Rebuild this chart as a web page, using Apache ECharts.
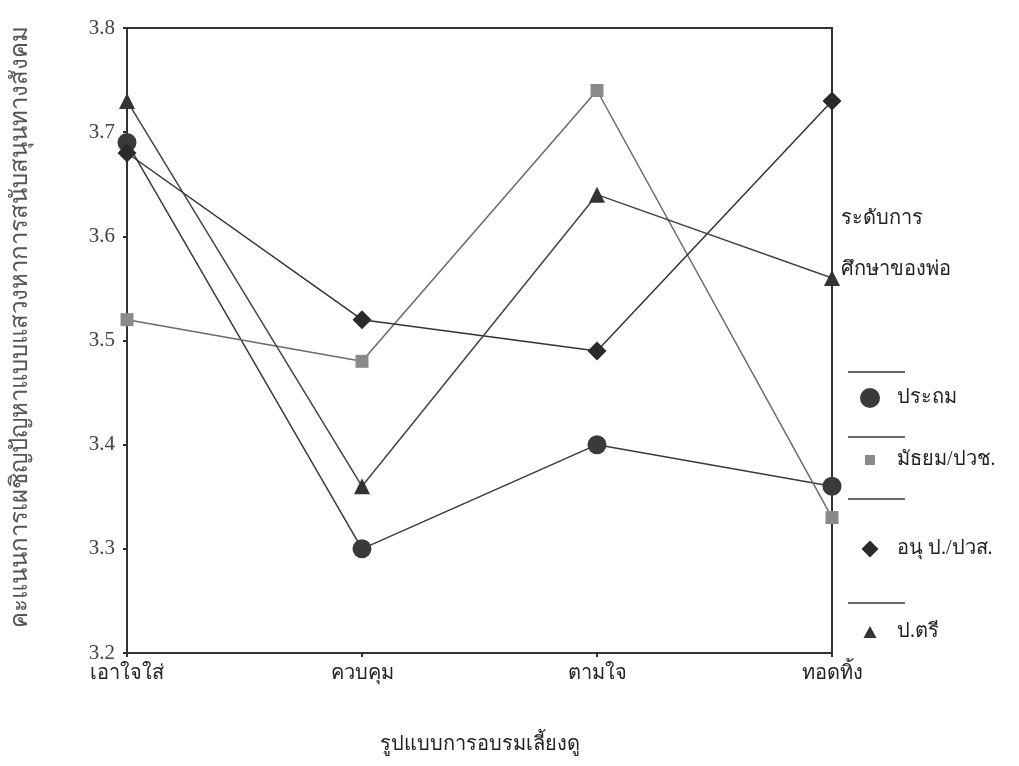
<!DOCTYPE html>
<html>
<head>
    <meta charset="utf-8"/>
    <title>ECharts</title>
    <script src="https://cdn.jsdelivr.net/npm/echarts@6/dist/echarts.min.js"></script>
    <style type="text/css">
        body { margin: 0; background: #fff; }
        #main { width: 1019px; height: 766px; }
    </style>
</head>
<body>
<div id="main"></div>
<script type="text/javascript">
    // categories (parenting style)
    var styles = ['เอาใจใส่', 'ควบคุม', 'ตามใจ', 'ทอดทิ้ง'];
    // father's education level
    var levels = ['ประถม', 'มัธยม/ปวช.', 'อนุ ป./ปวส.', 'ป.ตรี'];
    var prathom = [3.69, 3.30, 3.40, 3.36];
    var mathayom = [3.52, 3.48, 3.74, 3.33];
    var anu = [3.68, 3.52, 3.49, 3.73];
    var bachelor = [3.73, 3.36, 3.64, 3.56];
    var yTicks = [3.2, 3.3, 3.4, 3.5, 3.6, 3.7, 3.8];

    var font = "'Liberation Serif', 'DejaVu Serif', serif";
    var ink = '#333';

    var myChart = echarts.init(document.getElementById('main'));

    function line(name, data, symbol, size, color, lineColor) {
        return {
            name: name,
            type: 'line',
            data: data,
            symbol: symbol,
            symbolSize: size,
            showAllSymbol: true,
            itemStyle: { color: color },
            lineStyle: { color: lineColor, width: 1.5 },
            z: 3
        };
    }

    // one legend per item so the uneven spacing of the original can be kept
    function legendAt(name, icon, w, h, top) {
        return {
            data: [{ name: name, icon: icon }],
            left: 865 - w / 2,
            top: top,
            itemWidth: w,
            itemHeight: h,
            selectedMode: false,
            textStyle: { fontFamily: font, fontSize: 20, color: '#222', padding: [0, 0, 0, 27 - w / 2 - 5] }
        };
    }

    var option = {
        backgroundColor: '#fff',
        animation: false,
        title: {
            text: 'ระดับการ\nศึกษาของพ่อ',
            left: 836,
            top: 188,
            textStyle: { fontFamily: font, fontSize: 20, fontWeight: 'normal', color: '#222', lineHeight: 51 }
        },
        grid: {
            left: 127, right: 187, top: 28, bottom: 113,
            show: true, borderColor: ink, borderWidth: 2, backgroundColor: 'transparent'
        },
        legend: [
            legendAt(levels[0], 'circle', 20, 20, 383),
            legendAt(levels[1], 'rect', 10, 10, 445),
            legendAt(levels[2], 'diamond', 17, 17, 534),
            legendAt(levels[3], 'triangle', 13, 12, 617)
        ],
        xAxis: {
            type: 'category',
            data: styles,
            boundaryGap: false,
            name: 'รูปแบบการอบรมเลี้ยงดู',
            nameLocation: 'middle',
            nameGap: 82,
            nameTextStyle: { fontFamily: font, fontSize: 20, color: '#222' },
            axisLine: { lineStyle: { color: ink, width: 2 } },
            axisTick: { alignWithLabel: true, length: 4, lineStyle: { color: ink, width: 2 } },
            axisLabel: { fontFamily: font, fontSize: 20, color: '#222', margin: 11 },
            splitLine: { show: false }
        },
        yAxis: {
            type: 'value',
            min: yTicks[0],
            max: yTicks[yTicks.length - 1],
            interval: 0.1,
            name: 'คะแนนการเผชิญปัญหาแบบแสวงหาการสนับสนุนทางสังคม',
            nameLocation: 'middle',
            nameGap: 94,
            nameTextStyle: { fontFamily: font, fontSize: 24, color: '#555', padding: [0, 0, 0, 28] },
            axisLine: { show: true, lineStyle: { color: ink, width: 2 } },
            axisTick: { show: true, length: 4, lineStyle: { color: ink, width: 2 } },
            axisLabel: {
                fontFamily: font, fontSize: 21, color: '#444', margin: 12,
                formatter: function (v) { return v.toFixed(1); }
            },
            splitLine: { show: false }
        },
        series: [
            line(levels[0], prathom, 'circle', 19, '#3a3a3a', '#3a3a3a'),
            line(levels[1], mathayom, 'rect', 13, '#8a8a8a', '#6a6a6a'),
            line(levels[2], anu, 'diamond', 19, '#2a2a2a', '#333'),
            line(levels[3], bachelor, 'triangle', 16, '#333', '#444')
        ],
        graphic: [
            { type: 'line', shape: { x1: 848, y1: 372, x2: 905, y2: 372 }, style: { stroke: ink, lineWidth: 1.5 } },
            { type: 'line', shape: { x1: 848, y1: 437, x2: 905, y2: 437 }, style: { stroke: ink, lineWidth: 1.5 } },
            { type: 'line', shape: { x1: 848, y1: 499, x2: 905, y2: 499 }, style: { stroke: ink, lineWidth: 1.5 } },
            { type: 'line', shape: { x1: 848, y1: 603, x2: 905, y2: 603 }, style: { stroke: ink, lineWidth: 1.5 } }
        ]
    };
    myChart.setOption(option);
</script>
</body>
</html>
